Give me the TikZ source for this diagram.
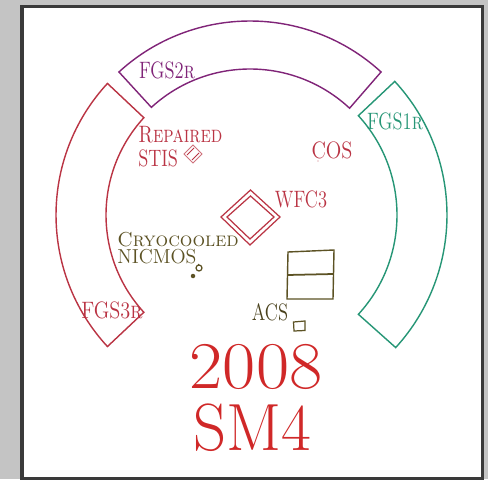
\documentclass[tikz,border=0pt]{standalone}
\usepackage{fontspec}
\usepackage{xcolor}
\definecolor{hstgrey}{RGB}{196, 196, 196}
\definecolor{hstframe}{RGB}{58, 58, 58}
\definecolor{hstpurple}{RGB}{128, 36, 120}
\definecolor{hstred}{RGB}{186, 52, 68}
\definecolor{hstgreen}{RGB}{38, 150, 118}
\definecolor{hstolive}{RGB}{92, 82, 36}
\definecolor{hstyear}{RGB}{208, 40, 40}
\usetikzlibrary{calc}

\begin{document}
\begin{tikzpicture}[
    fgsline/.style={line width=0.8pt, line join=miter},
    instr/.style={font=\fontsize{13.5}{13.5}\selectfont, inner sep=0pt, xscale=0.78},
    widelabel/.style={instr, xscale=1.1},
    coldlabel/.style={font=\fontsize{11.5}{11.5}\selectfont, inner sep=0pt, xscale=0.98},
    bigtext/.style={font=\fontsize{38}{38}\selectfont, text=hstyear, inner sep=0pt}]
\useasboundingbox (0,0) rectangle (9.76,9.58);

% === Fondo y marco ===
\fill[hstgrey] (0,0) rectangle (9.76,9.58);
\draw[line width=2pt, draw=hstframe, fill=white] (0.44,9.45) rectangle (9.65,0.01);

\coordinate (hub) at (5.0,5.28);

% === Sensores FGS ===
\draw[fgsline, hstpurple] ($(hub)+(132.5:3.88)$) arc (132.5:47.5:3.88)
    -- ($(hub)+(47:2.92)$) arc (47:132.5:2.92) -- cycle;
\draw[fgsline, hstgreen] ($(hub)+(42.7:3.94)$) arc (42.7:-42.3:3.94)
    -- ($(hub)+(-42.5:2.94)$) arc (-42.5:42.5:2.94) -- cycle;
\draw[fgsline, hstred] ($(hub)+(137.3:3.88)$) arc (137.3:222.7:3.88)
    -- ($(hub)+(222.5:2.88)$) arc (222.5:137.5:2.88) -- cycle;

\node[instr, text=hstpurple] (fgstwo) at (3.34,8.18) {FGS2\textsc{r}};
\node[instr, text=hstgreen] (fgsone) at (7.90,7.16) {FGS1\textsc{r}};
\node[widelabel, text=hstred] (fgsthree) at (2.24,3.38) {FGS3\textsc{r}};

% === STIS ===
\node[instr, text=hstred, anchor=west] (repaired) at (2.76,6.88) {\textsc{Repaired}};
\node[instr, text=hstred, anchor=west] (stis) at (2.76,6.42) {STIS};
\draw[hstred!70, line width=0.5pt] (3.68,6.50) -- (3.86,6.68) -- (4.04,6.50) -- (3.86,6.32) -- cycle;
\foreach \d in {-0.05,0.05}
    \draw[hstred, line width=0.6pt] ($(3.86,6.50)+(-0.07+\d,-0.07-\d)$) -- ($(3.86,6.50)+(0.07+\d,0.07-\d)$);

% === COS ===
\node[widelabel, text=hstred] (cos) at (6.64,6.58) {COS};
\fill[hstred!70] (6.36,6.36) circle (0.4pt);

% === WFC3 ===
\node[instr, text=hstred] (wfc) at (6.02,5.60) {WFC3};
\foreach \d in {0,0.12}
    \draw[hstred, line width=0.7pt] (4.42+\d,5.24) -- (5.01,5.78-\d) -- (5.60-\d,5.24) -- (5.00,4.68+\d) -- cycle;

% === NICMOS ===
\node[coldlabel, text=hstolive, anchor=west] (cryo) at (2.34,4.78) {\textsc{Cryocooled}};
\node[coldlabel, text=hstolive, anchor=west] (nicmos) at (2.34,4.44) {NICMOS};
\draw[hstolive, line width=0.7pt] (3.98,4.22) circle (0.06);
\draw[hstolive, line width=0.6pt] (3.96,4.30) -- (3.98,4.28);
\fill[hstolive] (3.86,4.06) circle (0.045);

% === ACS ===
\node[instr, text=hstolive!80!black] (acs) at (5.40,3.34) {ACS};
\draw[hstolive, line width=0.8pt] (5.76,4.54) -- (6.68,4.58) -- (6.66,3.60) -- (5.74,3.60) -- cycle;
\draw[hstolive, line width=1pt] (5.75,4.08) -- (6.67,4.10);
\draw[hstolive, line width=0.7pt] (5.87,3.14) -- (6.10,3.16) -- (6.10,2.97) -- (5.88,2.96) -- cycle;

% === Titulo ===
\node[bigtext, xscale=1.08] (year) at (5.12,2.24) {2008};
\node[bigtext, xscale=0.97] (mission) at (5.05,1.02) {SM4};

\end{tikzpicture}
\end{document}
